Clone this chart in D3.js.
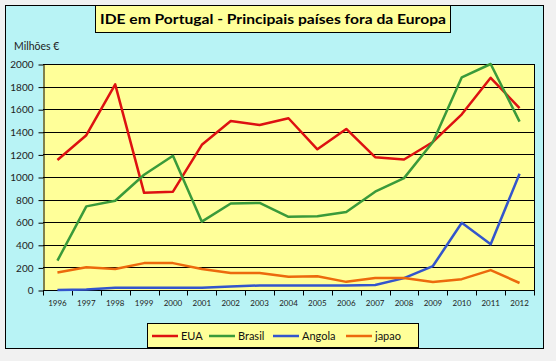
<!DOCTYPE html>
<html>
<head>
<meta charset="utf-8">
<script src="https://cdn.jsdelivr.net/npm/d3@7"></script>
<style>
  body { margin: 0; background: #f1f1f1; }
  svg { display: block; font-family: "Lato", "DejaVu Sans", sans-serif; }
</style>
</head>
<body>
<svg id="chart"></svg>
<script>
const years = ['1996','1997','1998','1999','2000','2001','2002','2003','2004','2005','2006','2007','2008','2009','2010','2011','2012'];
const eua = [1150,1370,1820,860,870,1285,1495,1460,1520,1245,1425,1175,1155,1310,1555,1878,1610];
const brasil = [260,740,790,1020,1188,605,765,770,648,652,690,870,990,1310,1882,2000,1490];
const angola = [0,5,20,20,20,20,30,40,40,40,40,45,105,212,595,405,1028];
const japao = [155,202,186,238,238,186,150,150,117,122,72,106,106,71,96,176,62];
const yTicks = [0,200,400,600,800,1000,1200,1400,1600,1800,2000];

const series = [
  { name: 'EUA', values: eua, color: '#dd1111' },
  { name: 'Brasil', values: brasil, color: '#3a9a3a' },
  { name: 'Angola', values: angola, color: '#3355cc' },
  { name: 'japao', values: japao, color: '#ec6a0c' }
];

const width = 556, height = 361;
const plot = { left: 43, right: 534, top: 64, bottom: 290 };

const svg = d3.select('#chart').attr('width', width).attr('height', height);

// outer chart box
svg.append('rect')
  .attr('x', 5.5).attr('y', 5.5).attr('width', 538).attr('height', 343)
  .attr('fill', '#b8f3f5').attr('stroke', '#000').attr('stroke-width', 1);

// title box
svg.append('rect')
  .attr('x', 95.5).attr('y', 5.5).attr('width', 355).attr('height', 27)
  .attr('fill', '#ffff99').attr('stroke', '#000');
svg.append('text')
  .attr('x', 273).attr('y', 24)
  .attr('text-anchor', 'middle')
  .attr('font-size', 14).attr('font-weight', 'bold')
  .attr('textLength', 346).attr('lengthAdjust', 'spacingAndGlyphs')
  .text('IDE em Portugal - Principais países fora da Europa');

svg.append('text')
  .attr('x', 14).attr('y', 50)
  .attr('font-size', 10.5).attr('fill', '#222')
  .text('Milhões €');

const x = d3.scaleBand()
  .domain(years)
  .range([plot.left, plot.right]);

const y = d3.scaleLinear()
  .domain([0, 2000])
  .range([plot.bottom, plot.top]);

// plot area
svg.append('rect')
  .attr('x', plot.left).attr('y', plot.top)
  .attr('width', plot.right - plot.left).attr('height', plot.bottom - plot.top)
  .attr('fill', '#ffff99');

// grid
svg.append('g')
  .selectAll('line')
  .data(yTicks)
  .join('line')
  .attr('x1', plot.left).attr('x2', plot.right)
  .attr('y1', d => Math.round(y(d)) + 0.5).attr('y2', d => Math.round(y(d)) + 0.5)
  .attr('stroke', '#000').attr('stroke-width', 1);

svg.append('line')
  .attr('x1', plot.right + 0.5).attr('x2', plot.right + 0.5)
  .attr('y1', plot.top).attr('y2', plot.bottom)
  .attr('stroke', '#000');

// y axis
const yAxis = svg.append('g')
  .attr('transform', `translate(${plot.left + 0.5},0.5)`)
  .call(d3.axisLeft(y).tickValues(yTicks).tickFormat(d3.format('d'))
    .tickSize(5).tickPadding(5).tickSizeOuter(0));
yAxis.select('.domain').attr('stroke', '#000');
yAxis.selectAll('text').attr('font-size', 10).attr('fill', '#222')
  .attr('font-family', 'Lato, sans-serif');

// x axis: ticks on category boundaries
const xAxis = svg.append('g')
  .attr('transform', `translate(0,${plot.bottom + 0.5})`);
xAxis.append('line')
  .attr('x1', plot.left).attr('x2', plot.right + 1)
  .attr('stroke', '#000');
xAxis.selectAll('.tk')
  .data(years.concat(['end']))
  .join('line')
  .attr('class', 'tk')
  .attr('x1', (d, i) => Math.round(plot.left + i * x.step()) + 0.5)
  .attr('x2', (d, i) => Math.round(plot.left + i * x.step()) + 0.5)
  .attr('y1', 0).attr('y2', 5)
  .attr('stroke', '#000');
xAxis.selectAll('text')
  .data(years)
  .join('text')
  .attr('x', d => x(d) + x.bandwidth() / 2)
  .attr('y', 15)
  .attr('text-anchor', 'middle')
  .attr('font-size', 8).attr('fill', '#222')
  .text(d => d);

// lines
const line = d3.line()
  .x((d, i) => x(years[i]) + x.bandwidth() / 2)
  .y(d => y(d));

svg.append('g')
  .selectAll('path')
  .data(series)
  .join('path')
  .attr('d', d => line(d.values))
  .attr('fill', 'none')
  .attr('stroke', d => d.color)
  .attr('stroke-width', 2.5)
  .attr('stroke-linejoin', 'round');

// legend
const legend = svg.append('g');
legend.append('rect')
  .attr('x', 147.5).attr('y', 323.5).attr('width', 271).attr('height', 24)
  .attr('fill', '#ffff99').attr('stroke', '#000');

const legendX = [152, 209, 273, 346];
const item = legend.selectAll('.item')
  .data(series)
  .join('g')
  .attr('class', 'item')
  .attr('transform', (d, i) => `translate(${legendX[i]},336)`);
item.append('line')
  .attr('x1', 0).attr('x2', 26)
  .attr('stroke', d => d.color).attr('stroke-width', 2.5);
item.append('text')
  .attr('x', 29).attr('y', 4)
  .attr('font-size', 11).attr('fill', '#111')
  .text(d => d.name);
</script>
</body>
</html>
